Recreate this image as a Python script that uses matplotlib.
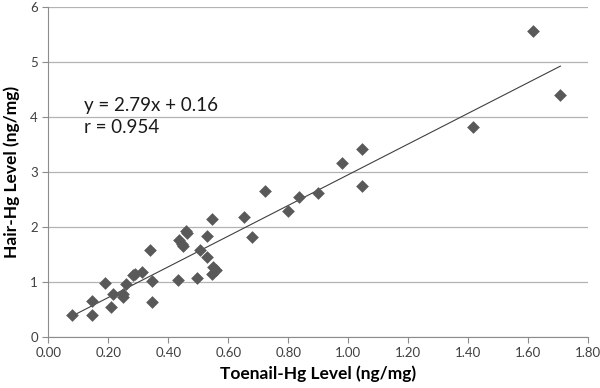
import numpy as np
import matplotlib
matplotlib.use('Agg')
from matplotlib import pyplot as plt

plt.rcParams['font.family'] = ['Lato', 'DejaVu Sans']

# toenail vs hair Hg levels (ng/mg)
toenail = [0.078, 0.145, 0.145, 0.209, 0.189, 0.217, 0.248, 0.248, 0.259, 0.281,
           0.289, 0.313, 0.339, 0.347, 0.347, 0.433, 0.437, 0.445, 0.450, 0.458,
           0.461, 0.495, 0.505, 0.528, 0.530, 0.547, 0.547, 0.550, 0.558, 0.653,
           0.680, 0.722, 0.800, 0.837, 0.901, 0.978, 1.047, 1.047, 1.415, 1.618,
           1.708]
hair = [0.40, 0.40, 0.66, 0.54, 0.98, 0.78, 0.78, 0.72, 0.96, 1.13,
        1.14, 1.19, 1.58, 1.02, 0.64, 1.04, 1.76, 1.69, 1.65, 1.93,
        1.90, 1.08, 1.58, 1.84, 1.45, 2.15, 1.15, 1.28, 1.22, 2.19,
        1.82, 2.65, 2.30, 2.54, 2.62, 3.16, 3.42, 2.75, 3.81, 5.56,
        4.40]
slope = 2.79
intercept = 0.16
eq_text = 'y = 2.79x + 0.16\nr = 0.954'

x_ticks = [0.0, 0.2, 0.4, 0.6, 0.8, 1.0, 1.2, 1.4, 1.6, 1.8]
y_ticks = [0, 1, 2, 3, 4, 5, 6]

fig = plt.figure(figsize=(6, 3.88), dpi=100)
ax = fig.add_axes([0.0805, 0.1314, 0.8995, 0.8506])

ax.scatter(toenail, hair, marker='D', s=42, color='#595959', zorder=3, linewidths=0)

xl = np.array([min(toenail), max(toenail)])
ax.plot(xl, slope * xl + intercept, color='#404040', linewidth=0.8, zorder=2)

ax.text(0.118, 4.01, eq_text, fontsize=13.5, color='#1a1a1a', va='center',
        linespacing=1.3)

ax.set_xlim(0, 1.8)
ax.set_ylim(0, 6)
ax.set_xticks(x_ticks)
ax.set_xticklabels(['%.2f' % v for v in x_ticks])
ax.set_yticks(y_ticks)
ax.yaxis.grid(True, color='#b3b3b3', linewidth=0.9)
ax.set_axisbelow(True)
for s in ['top', 'right']:
    ax.spines[s].set_visible(False)
for s in ['left', 'bottom']:
    ax.spines[s].set_color('#8c8c8c')
ax.tick_params(axis='both', colors='#8c8c8c', labelcolor='#404040', labelsize=9.5,
               length=4)

ax.set_xlabel('Toenail-Hg Level (ng/mg)', fontsize=12.5, fontweight='bold', labelpad=4)
ax.set_ylabel('Hair-Hg Level (ng/mg)', fontsize=12.5, fontweight='bold', labelpad=7)

fig.savefig('out.png', dpi=100)
